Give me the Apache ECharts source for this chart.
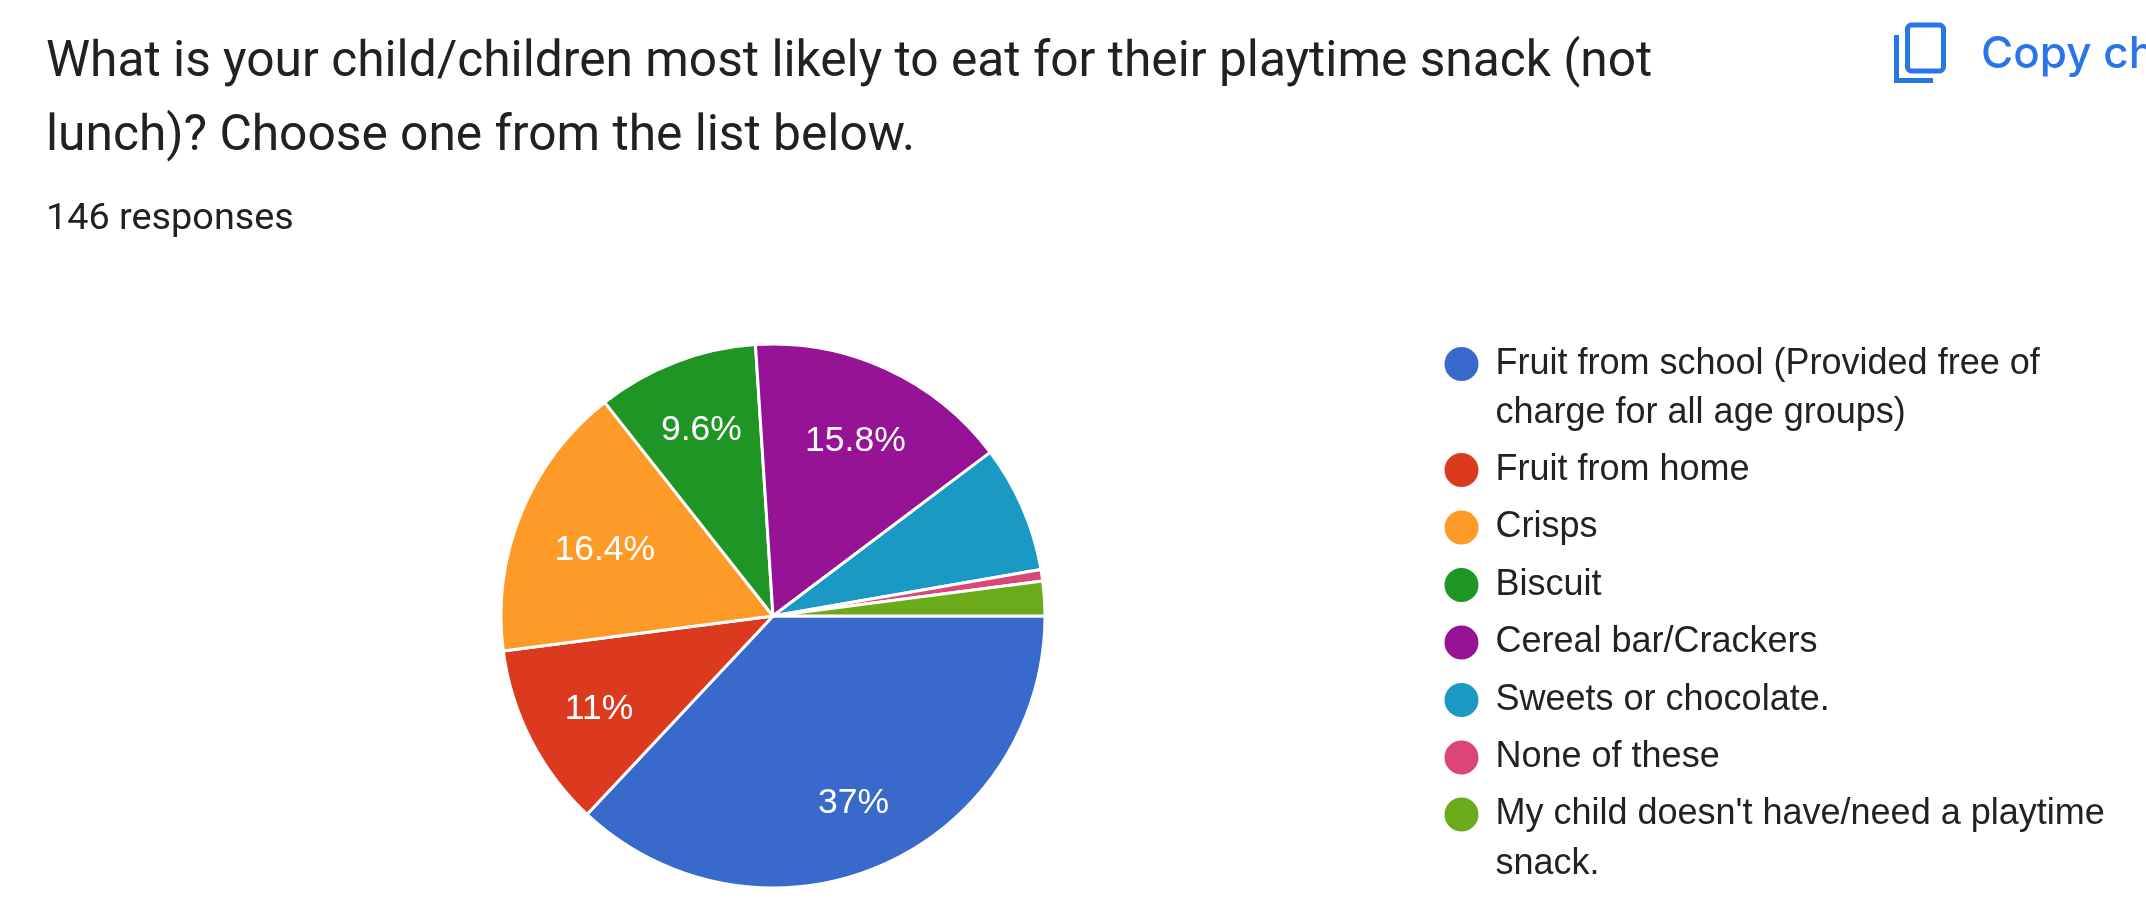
<!DOCTYPE html>
<html>
<head>
<meta charset="utf-8">
<style>html,body{margin:0;padding:0;background:#fff}#main{width:2146px;height:912px}</style>
<script src="https://cdn.jsdelivr.net/npm/echarts@6/dist/echarts.min.js"></script>
</head>
<body>
<div id="main"></div>
<script>
var categories = [
    'Fruit from school (Provided free of\ncharge for all age groups)',
    'Fruit from home',
    'Crisps',
    'Biscuit',
    'Cereal bar/Crackers',
    'Sweets or chocolate.',
    'None of these',
    "My child doesn't have/need a playtime\nsnack."
];
var responses = [54, 16, 24, 14, 23, 11, 1, 3];
var sliceLabels = ['37%', '11%', '16.4%', '9.6%', '15.8%', '', '', ''];
var colors = ['#3869cb', '#db3a1f', '#fe9a27', '#1e9524', '#951394', '#1a99c4', '#dc4579', '#6aaa1b'];

var sliceData = categories.map(function (name, i) {
    return {name: name, value: responses[i]};
});

// one legend per block. a blank line on top of a wrapped name puts
// its first line level with the circle, the legend centres the text on it
function legendBlock(names, top, wrapped) {
    return {
        orient: 'vertical',
        left: 1442.5,
        top: top,
        padding: 0,
        itemWidth: 36,
        itemHeight: 36,
        itemGap: 8.2,
        icon: 'circle',
        selectedMode: false,
        data: names,
        formatter: function (name) {
            return wrapped ? '\n' + name : name;
        },
        textStyle: {
            fontFamily: 'Liberation Sans',
            fontSize: 36,
            lineHeight: 49.3,
            color: '#222222',
            padding: [0, 0, 0, 11]
        }
    };
}

// small nudges of the slice labels, px
var labelNudge = [[1, 4], [4, 2], [17, 10], [0, 1], [-1, 7]];

var myChart = echarts.init(document.getElementById('main'));
var option = {
    backgroundColor: '#ffffff',
    color: colors,
    animation: false,
    title: [
        {
            text: 'What is your child/children most likely to eat for their playtime snack (not\nlunch)? Choose one from the list below.',
            left: 46,
            top: 27,
            padding: 0,
            textStyle: {fontFamily: 'Roboto', fontSize: 49.7, fontWeight: 400, lineHeight: 74, color: '#202124'}
        },
        {
            text: '146 responses',
            left: 46,
            top: 198,
            padding: 0,
            textStyle: {fontFamily: 'Roboto', fontSize: 37.8, fontWeight: 400, lineHeight: 44, color: '#202124'}
        },
        {
            text: 'Copy chart',
            left: 1981,
            top: 25,
            padding: 0,
            textStyle: {fontFamily: 'Inter', fontSize: 44, fontWeight: 500, lineHeight: 60, color: '#2a75e6'}
        }
    ],
    legend: [
        legendBlock(categories.slice(0, 1), 290, true),
        legendBlock(categories.slice(1, 7), 445.4, false),
        legendBlock(categories.slice(7), 740.5, true)
    ],
    graphic: [
        {
            type: 'rect',
            shape: {x: 1907.5, y: 25, width: 36, height: 46, r: 4},
            style: {fill: 'none', stroke: '#2a75e6', lineWidth: 5}
        },
        {
            type: 'polyline',
            shape: {points: [[1896.5, 35], [1896.5, 80.5], [1933, 80.5]]},
            style: {fill: 'none', stroke: '#2a75e6', lineWidth: 5}
        }
    ],
    series: [
        {
            type: 'pie',
            center: [773, 616],
            radius: [0, 272],
            startAngle: 0,
            clockwise: true,
            silent: true,
            label: {show: false},
            labelLine: {show: false},
            itemStyle: {borderColor: '#ffffff', borderWidth: 3},
            data: sliceData
        },
        {
            // transparent ring, only here to hold the labels further out than mid radius
            type: 'pie',
            center: [773, 616],
            radius: [124, 270],
            startAngle: 0,
            clockwise: true,
            silent: true,
            avoidLabelOverlap: false,
            legendHoverLink: false,
            itemStyle: {color: 'transparent', borderWidth: 0},
            label: {
                show: true,
                position: 'inside',
                fontFamily: 'Liberation Sans',
                fontSize: 35.5,
                color: '#ffffff',
                formatter: function (p) {
                    return sliceLabels[p.dataIndex];
                }
            },
            labelLayout: function (p) {
                var n = labelNudge[p.dataIndex] || [0, 0];
                return {dx: n[0], dy: n[1]};
            },
            labelLine: {show: false},
            data: sliceData
        }
    ]
};
myChart.setOption(option);
</script>
</body>
</html>
